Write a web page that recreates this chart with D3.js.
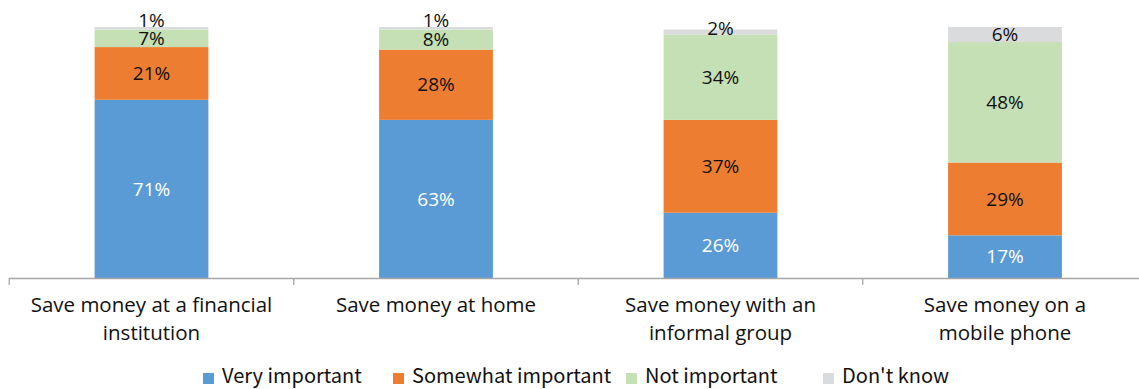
<!DOCTYPE html>
<html><head><meta charset="utf-8">
<script src="https://cdn.jsdelivr.net/npm/d3@7"></script>
<style>body{margin:0;background:#fff}svg{display:block}</style>
</head><body><svg id="c" width="1139" height="389"></svg>
<script>
const categories = [["Save money at a financial","institution"],["Save money at home"],["Save money with an","informal group"],["Save money on a","mobile phone"]];
const seriesNames = ["Very important","Somewhat important","Not important","Don't know"];
const veryImportant = [71, 63, 26, 17];
const somewhatImportant = [21, 28, 37, 29];
const notImportant = [7, 8, 34, 48];
const dontKnow = [1, 1, 2, 6];
const colors = ["#5B9BD5","#ED7D31","#C5E0B4","#DADBDD"];
const labelColors = ["#fff","#111","#111","#111"];

(function(){
const svg = d3.select("#c");
const pLeft = 9.25, pRight = 1147.25, pTop = 27, pBottom = 278;
const keys = categories.map((c,i)=>i);
const x = d3.scaleBand().domain(keys).range([pLeft,pRight]).paddingInner(0.6).paddingOuter(0.3);
const xAxisScale = d3.scaleBand().domain(keys).range([pLeft,pRight]);
const y = d3.scaleLinear().domain([0,100]).range([pBottom,pTop]);

const rows = keys.map(i=>({i, v0:veryImportant[i], v1:somewhatImportant[i], v2:notImportant[i], v3:dontKnow[i]}));
const stack = d3.stack().keys(["v0","v1","v2","v3"])(rows);

stack.forEach((layer,si)=>{
  const g = svg.append("g");
  g.selectAll("rect").data(layer).enter().append("rect")
    .attr("x",d=>x(d.data.i)).attr("width",x.bandwidth())
    .attr("y",d=>y(d[1])).attr("height",d=>y(d[0])-y(d[1]))
    .attr("fill",colors[si]);
});
stack.forEach((layer,si)=>{
  svg.append("g").selectAll("text").data(layer).enter().append("text")
    .attr("x",d=>x(d.data.i)+x.bandwidth()/2)
    .attr("y",d=>{let c=(y(d[0])+y(d[1]))/2; if(d[1]-d[0]<=1.5) c-=8; else if(d[1]-d[0]<=2.5) c-=4; return c;})
    .attr("dy","0.35em").attr("text-anchor","middle")
    .attr("font-family","Open Sans, sans-serif").attr("font-size",19)
    .attr("fill",labelColors[si])
    .text(d=>(d[1]-d[0])+"%");
});

const ax = svg.append("g").attr("stroke","#A6A6A6").attr("stroke-width",1.3);
ax.append("line").attr("x1",pLeft).attr("x2",1139).attr("y1",pBottom+0.5).attr("y2",pBottom+0.5);
ax.append("line").attr("x1",pLeft).attr("x2",pLeft).attr("y1",pBottom).attr("y2",pBottom+7);
keys.forEach(i=>{
  if(i>0) ax.append("line").attr("x1",xAxisScale(i)).attr("x2",xAxisScale(i)).attr("y1",pBottom).attr("y2",pBottom+7);
});
keys.forEach(i=>{
  const t = svg.append("text").attr("text-anchor","middle")
    .attr("font-family","Open Sans, sans-serif").attr("font-size",20.5).attr("fill","#111");
  categories[i].forEach((line,li)=>{
    t.append("tspan").attr("x",x(i)+x.bandwidth()/2).attr("y",312+li*28).text(line);
  });
});

const legendX = [203, 393, 626, 823];
const lg = svg.append("g");
seriesNames.forEach((n,i)=>{
  lg.append("rect").attr("x",legendX[i]).attr("y",373).attr("width",11).attr("height",11).attr("fill",colors[i]);
  lg.append("text").attr("x",legendX[i]+19).attr("y",382.5)
    .attr("font-family","Noto Sans CJK KR, sans-serif").attr("font-size",20).attr("fill","#111").text(n);
});
})();
</script></body></html>
